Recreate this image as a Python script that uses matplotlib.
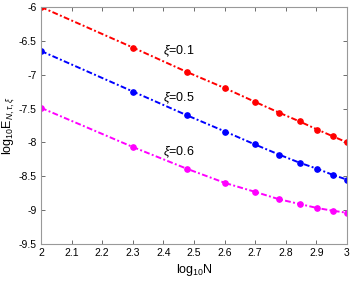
import matplotlib.pyplot as plt

plt.rcParams['font.family'] = ['Liberation Sans', 'DejaVu Sans']
plt.rcParams['mathtext.fontset'] = 'custom'
plt.rcParams['mathtext.rm'] = 'Liberation Sans'
plt.rcParams['mathtext.it'] = 'Liberation Sans:italic'

log_n = [2.0, 2.301, 2.477, 2.602, 2.699, 2.778, 2.845, 2.903, 2.954, 3.0]
err_01 = [-6.0, -6.60, -6.96, -7.20, -7.40, -7.56, -7.69, -7.81, -7.91, -8.0]
err_05 = [-6.65, -7.25, -7.60, -7.84, -8.03, -8.18, -8.30, -8.39, -8.48, -8.55]
err_06 = [-7.49, -8.07, -8.39, -8.60, -8.73, -8.84, -8.91, -8.97, -9.01, -9.04]

series = [
    (err_01, 'red', r'$\xi$=0.1', -6.66),
    (err_05, 'blue', r'$\xi$=0.5', -7.34),
    (err_06, 'magenta', r'$\xi$=0.6', -8.15),
]

fig = plt.figure(figsize=(3.54, 2.81), dpi=100)
ax = fig.add_axes([0.116, 0.132, 0.864, 0.843])

for vals, color, label, ty in series:
    ax.plot(log_n, vals, color=color, lw=1.4, dashes=(3, 1.2, 1, 1.2),
            marker='o', ms=3.8)
    ax.text(2.40, ty, label, fontsize=9, va='center', ha='left')

ax.set_xlim(2, 3)
ax.set_ylim(-9.5, -6)
ax.set_xticks([2, 2.1, 2.2, 2.3, 2.4, 2.5, 2.6, 2.7, 2.8, 2.9, 3])
ax.set_xticklabels(['2', '2.1', '2.2', '2.3', '2.4', '2.5', '2.6', '2.7', '2.8', '2.9', '3'])
ax.set_yticks([-9.5, -9, -8.5, -8, -7.5, -7, -6.5, -6])
ax.set_yticklabels(['-9.5', '-9', '-8.5', '-8', '-7.5', '-7', '-6.5', '-6'])
ax.tick_params(direction='in', top=True, right=True, labelsize=7.5,
               length=3, width=0.6, color='#555555', pad=3)
for s in ax.spines.values():
    s.set_color('#999999')
    s.set_linewidth(0.8)

ax.set_xlabel(r'log$_{10}$N', fontsize=9, labelpad=3)
ax.set_ylabel(r'log$_{10}$E$_{N,\tau,\xi}$', fontsize=9, labelpad=2)

fig.savefig('out.png', dpi=100)
